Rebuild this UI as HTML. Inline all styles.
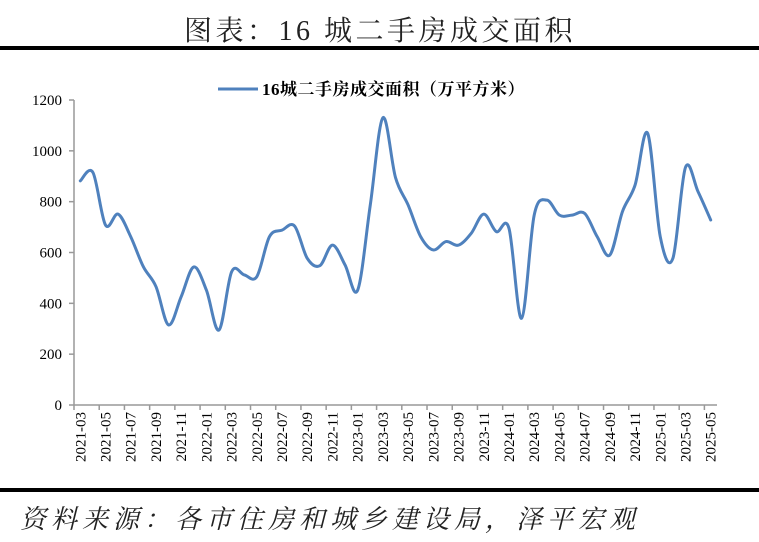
<!DOCTYPE html>
<html><head><meta charset="utf-8"><style>
html,body{margin:0;padding:0;background:#fff;}
svg{display:block;}
</style></head><body>
<svg width="759" height="542" viewBox="0 0 759 542" xmlns="http://www.w3.org/2000/svg" id="chart">
<text x="380" y="40" text-anchor="middle" font-family="'Liberation Serif','Noto Serif CJK SC',serif" font-size="28" fill="#222" letter-spacing="3.5">图表：16 城二手房成交面积</text>
<rect x="0" y="46" width="759" height="4" fill="#000"/>
<g>
<line x1="218" y1="89" x2="258" y2="89" stroke="#4f81bd" stroke-width="3"/>
<text x="262" y="95" font-family="'Liberation Serif','Noto Serif CJK SC',serif" font-size="17" font-weight="bold" fill="#000" letter-spacing="0.5">16城二手房成交面积（万平方米）</text>
</g>
<g id="axes"></g>
<path id="series" fill="none" stroke="#4f81bd" stroke-width="3" stroke-linejoin="round" stroke-linecap="round"/>
<rect x="0" y="488" width="759" height="4" fill="#000"/>
<text x="20" y="528" font-family="'Liberation Serif','Noto Serif CJK SC',serif" font-size="26" font-style="italic" fill="#222" letter-spacing="5">资料来源：各市住房和城乡建设局，泽平宏观</text>
</svg>
<script>
const categories = [];
for (let y = 2021, m = 3; !(y === 2025 && m > 5); m++) { if (m > 12) { m = 1; y++; } categories.push(y + '-' + String(m).padStart(2, '0')); }
const values = [882,915,708,751,662,544,466,315,426,543,452,295,524,512,505,662,688,704,577,548,629,551,452,787,1130,895,787,662,610,643,629,675,751,682,695,341,747,806,747,747,754,662,590,761,865,1069,662,577,935,839,728];
const yTicks = [0,200,400,600,800,1000,1200];
const NS = 'http://www.w3.org/2000/svg';
const x0 = 74, x1 = 717, yBase = 405, yTop = 100, yMax = 1200;
const step = (x1 - x0) / categories.length;
function xs(i){ return x0 + step * (i + 0.5); }
function ys(v){ return yBase - (v / yMax) * (yBase - yTop); }
const axes = document.getElementById('axes');
function mk(tag, attrs){ const e = document.createElementNS(NS, tag); for (const k in attrs) e.setAttribute(k, attrs[k]); axes.appendChild(e); return e; }
const ya = mk('line', {x1:x0, y1:yTop, x2:x0, y2:yBase, stroke:'#999', 'stroke-width':1.5});


const xa = mk('line', {x1:x0, y1:yBase, x2:x1, y2:yBase, stroke:'#999', 'stroke-width':1.5});


yTicks.forEach(t => {
  const y = ys(t);
  const tk = mk('line', {x1:x0-5, y1:y, x2:x0, y2:y, stroke:'#999', 'stroke-width':1.5});
  
  
  const lb = mk('text', {x:x0-12, y:y+5, 'text-anchor':'end', 'font-family':"'Liberation Serif',serif", 'font-size':15, fill:'#000'});
  lb.textContent = t;
  
  
});
for (let i = 0; i <= categories.length; i += 2) {
  const x = x0 + step * i;
  const tk = mk('line', {x1:x, y1:yBase, x2:x, y2:yBase+5, stroke:'#999', 'stroke-width':1.5});
  
  
}
categories.forEach((c, i) => {
  if (i % 2) return;
  const x = xs(i) + 5;
  const lb = mk('text', {x:x, y:412, 'text-anchor':'end', 'font-family':"'Liberation Serif',serif", 'font-size':15, fill:'#000', transform:'rotate(-90 ' + x + ' 412)'});
  lb.textContent = c;
  
  
});
const pts = values.map((v, i) => [xs(i), ys(v)]);
let d = 'M' + pts[0][0] + ' ' + pts[0][1];
for (let i = 0; i < pts.length - 1; i++) {
  const p0 = pts[Math.max(0, i-1)], p1 = pts[i], p2 = pts[i+1], p3 = pts[Math.min(pts.length-1, i+2)];
  const t = 1/6;
  d += ' C' + (p1[0] + (p2[0]-p0[0])*t) + ' ' + (p1[1] + (p2[1]-p0[1])*t) + ' ' + (p2[0] - (p3[0]-p1[0])*t) + ' ' + (p2[1] - (p3[1]-p1[1])*t) + ' ' + p2[0] + ' ' + p2[1];
}
document.getElementById('series').setAttribute('d', d);
</script>
</body></html>
